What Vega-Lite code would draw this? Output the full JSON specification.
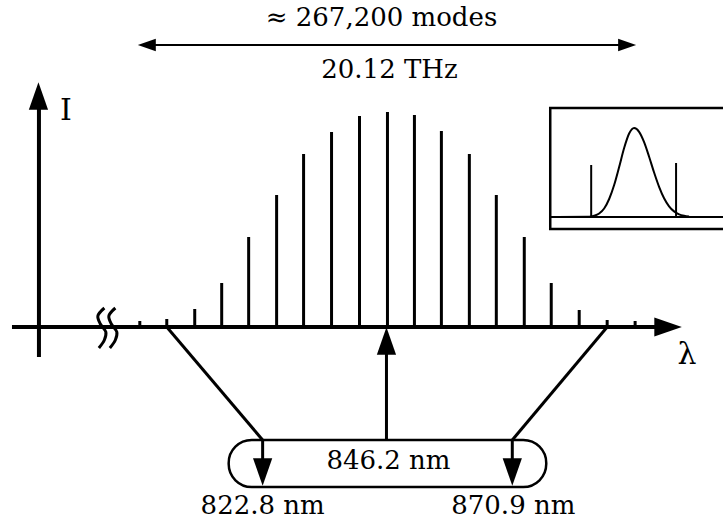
{
  "$schema": "https://vega.github.io/schema/vega-lite/v6.json",
  "width": 724,
  "height": 522,
  "autosize": {"type": "fit", "contains": "padding"},
  "padding": 0,
  "background": "white",
  "config": {"view": {"stroke": null}},
  "datasets": {
    "segs": [
      {"kind": "axis", "x": 12, "y": 327, "x2": 660, "y2": 327},
      {"kind": "axis", "x": 39, "y": 357, "x2": 39, "y2": 105},
      {"kind": "spike", "x": 140, "y": 327, "x2": 140, "y2": 321},
      {"kind": "spike", "x": 167, "y": 327, "x2": 167, "y2": 319},
      {"kind": "spike", "x": 195, "y": 327, "x2": 195, "y2": 309},
      {"kind": "spike", "x": 222, "y": 327, "x2": 222, "y2": 283},
      {"kind": "spike", "x": 249, "y": 327, "x2": 249, "y2": 237},
      {"kind": "spike", "x": 277, "y": 327, "x2": 277, "y2": 195},
      {"kind": "spike", "x": 304, "y": 327, "x2": 304, "y2": 154},
      {"kind": "spike", "x": 332, "y": 327, "x2": 332, "y2": 132},
      {"kind": "spike", "x": 360, "y": 327, "x2": 360, "y2": 116},
      {"kind": "spike", "x": 388, "y": 327, "x2": 388, "y2": 112},
      {"kind": "spike", "x": 415, "y": 327, "x2": 415, "y2": 115},
      {"kind": "spike", "x": 442, "y": 327, "x2": 442, "y2": 131},
      {"kind": "spike", "x": 470, "y": 327, "x2": 470, "y2": 154},
      {"kind": "spike", "x": 497, "y": 327, "x2": 497, "y2": 195},
      {"kind": "spike", "x": 525, "y": 327, "x2": 525, "y2": 237},
      {"kind": "spike", "x": 552, "y": 327, "x2": 552, "y2": 283},
      {"kind": "spike", "x": 580, "y": 327, "x2": 580, "y2": 310},
      {"kind": "spike", "x": 608, "y": 327, "x2": 608, "y2": 320},
      {"kind": "spike", "x": 636, "y": 327, "x2": 636, "y2": 321},
      {"kind": "conn", "x": 167, "y": 327, "x2": 263, "y2": 440},
      {"kind": "conn", "x": 608, "y": 327, "x2": 513, "y2": 440},
      {"kind": "conn", "x": 387, "y": 440, "x2": 387, "y2": 350},
      {"kind": "conn", "x": 263, "y": 440, "x2": 263, "y2": 465},
      {"kind": "conn", "x": 513, "y": 440, "x2": 513, "y2": 465},
      {"kind": "thin", "x": 150, "y": 45, "x2": 625, "y2": 45},
      {"kind": "thin", "x": 551, "y": 217, "x2": 724, "y2": 217},
      {"kind": "thin", "x": 592, "y": 217, "x2": 592, "y2": 165},
      {"kind": "thin", "x": 677, "y": 217, "x2": 677, "y2": 163}
    ],
    "heads": [
      {"grp": "big", "dir": "up", "x": 38.5, "y": 96},
      {"grp": "big", "dir": "right", "x": 669, "y": 327},
      {"grp": "big", "dir": "up", "x": 387, "y": 341},
      {"grp": "big", "dir": "down", "x": 263, "y": 472},
      {"grp": "big", "dir": "down", "x": 513, "y": 472},
      {"grp": "small", "dir": "left", "x": 147, "y": 45},
      {"grp": "small", "dir": "right", "x": 628, "y": 45}
    ],
    "boxes": [
      {"kind": "pill", "x": 229, "y": 440, "x2": 547, "y2": 487},
      {"kind": "inset", "x": 551, "y": 108, "x2": 740, "y2": 229}
    ],
    "gauss": [
      {"x": 552, "y": 217}, {"x": 590, "y": 216.8}, {"x": 595, "y": 215.8},
      {"x": 600, "y": 213.5}, {"x": 605, "y": 208.5}, {"x": 610, "y": 199},
      {"x": 615, "y": 185}, {"x": 620, "y": 167}, {"x": 625, "y": 148},
      {"x": 630, "y": 133.5}, {"x": 635, "y": 128}, {"x": 640, "y": 131.8},
      {"x": 645, "y": 142.1}, {"x": 650, "y": 156.7}, {"x": 655, "y": 172.5},
      {"x": 660, "y": 186.8}, {"x": 665, "y": 198.2}, {"x": 670, "y": 206.3},
      {"x": 675, "y": 211.4}, {"x": 680, "y": 214.3}, {"x": 685, "y": 215.8},
      {"x": 690, "y": 216.6}
    ],
    "squig": [
      {"s": 1, "i": 0, "x": 104.5, "y": 308}, {"s": 1, "i": 1, "x": 98, "y": 316},
      {"s": 1, "i": 2, "x": 100.5, "y": 324}, {"s": 1, "i": 3, "x": 106, "y": 332},
      {"s": 1, "i": 4, "x": 104.5, "y": 340}, {"s": 1, "i": 5, "x": 99, "y": 348},
      {"s": 2, "i": 0, "x": 115.5, "y": 308}, {"s": 2, "i": 1, "x": 109, "y": 316},
      {"s": 2, "i": 2, "x": 111.5, "y": 324}, {"s": 2, "i": 3, "x": 117, "y": 332},
      {"s": 2, "i": 4, "x": 115.5, "y": 340}, {"s": 2, "i": 5, "x": 110, "y": 348}
    ],
    "labels": [
      {"kind": "top", "t": "≈ 267,200 modes", "x": 382, "y": 18},
      {"kind": "top", "t": "20.12 THz", "x": 390, "y": 70},
      {"kind": "bot", "t": "846.2 nm", "x": 389, "y": 461},
      {"kind": "bot", "t": "822.8 nm", "x": 263, "y": 506},
      {"kind": "bot", "t": "870.9 nm", "x": 514, "y": 506},
      {"kind": "sym", "t": "I", "x": 66, "y": 111},
      {"kind": "sym", "t": "λ", "x": 688, "y": 355}
    ]
  },
  "encoding": {
    "x": {"field": "x", "type": "quantitative", "scale": {"domain": [0, 724], "nice": false, "zero": false}, "axis": null},
    "y": {"field": "y", "type": "quantitative", "scale": {"domain": [0, 522], "nice": false, "zero": false, "reverse": true}, "axis": null}
  },
  "layer": [
    {
      "data": {"name": "boxes"},
      "transform": [{"filter": "datum.kind === 'pill'"}],
      "mark": {"type": "rect", "fill": "white", "fillOpacity": 0, "stroke": "black", "strokeWidth": 2.5, "cornerRadius": 23},
      "encoding": {"x2": {"field": "x2"}, "y2": {"field": "y2"}}
    },
    {
      "data": {"name": "boxes"},
      "transform": [{"filter": "datum.kind === 'inset'"}],
      "mark": {"type": "rect", "fill": "white", "fillOpacity": 0, "stroke": "black", "strokeWidth": 2.5, "clip": true},
      "encoding": {"x2": {"field": "x2"}, "y2": {"field": "y2"}}
    },
    {
      "data": {"name": "segs"},
      "transform": [{"filter": "datum.kind === 'axis'"}],
      "mark": {"type": "rule", "color": "black", "strokeWidth": 4},
      "encoding": {"x2": {"field": "x2"}, "y2": {"field": "y2"}}
    },
    {
      "data": {"name": "segs"},
      "transform": [{"filter": "datum.kind === 'spike'"}],
      "mark": {"type": "rule", "color": "black", "strokeWidth": 3},
      "encoding": {"x2": {"field": "x2"}, "y2": {"field": "y2"}}
    },
    {
      "data": {"name": "segs"},
      "transform": [{"filter": "datum.kind === 'conn'"}],
      "mark": {"type": "rule", "color": "black", "strokeWidth": 3},
      "encoding": {"x2": {"field": "x2"}, "y2": {"field": "y2"}}
    },
    {
      "data": {"name": "segs"},
      "transform": [{"filter": "datum.kind === 'thin'"}],
      "mark": {"type": "rule", "color": "black", "strokeWidth": 2},
      "encoding": {"x2": {"field": "x2"}, "y2": {"field": "y2"}}
    },
    {
      "data": {"name": "gauss"},
      "mark": {"type": "line", "color": "black", "strokeWidth": 2, "interpolate": "monotone"},
      "encoding": {}
    },
    {
      "data": {"name": "squig"},
      "mark": {"type": "line", "color": "black", "strokeWidth": 3, "interpolate": "catmull-rom"},
      "encoding": {"detail": {"field": "s", "type": "nominal"}, "order": {"field": "i", "type": "quantitative"}}
    },
    {
      "data": {"name": "heads"},
      "transform": [{"filter": "datum.grp === 'big'"}],
      "mark": {"type": "point", "filled": true, "color": "black", "opacity": 1, "strokeWidth": 0, "size": 756},
      "encoding": {
        "shape": {"field": "dir", "type": "nominal", "legend": null,
          "scale": {"domain": ["up", "down", "left", "right"],
            "range": ["M0,-1L-0.7,1L0.7,1Z", "M0,1L-0.7,-1L0.7,-1Z", "M-1,0L1,-0.7L1,0.7Z", "M1,0L-1,-0.7L-1,0.7Z"]}}
      }
    },
    {
      "data": {"name": "heads"},
      "transform": [{"filter": "datum.grp === 'small'"}],
      "mark": {"type": "point", "filled": true, "color": "black", "opacity": 1, "strokeWidth": 0, "size": 324},
      "encoding": {
        "shape": {"field": "dir", "type": "nominal", "legend": null,
          "scale": {"domain": ["up", "down", "left", "right"],
            "range": ["M0,-1L-0.7,1L0.7,1Z", "M0,1L-0.7,-1L0.7,-1Z", "M-1,0L1,-0.7L1,0.7Z", "M1,0L-1,-0.7L-1,0.7Z"]}}
      }
    },
    {
      "data": {"name": "labels"},
      "transform": [{"filter": "datum.kind === 'top'"}],
      "mark": {"type": "text", "font": "DejaVu Serif", "fontSize": 26, "color": "black", "align": "center", "baseline": "middle"},
      "encoding": {"text": {"field": "t"}}
    },
    {
      "data": {"name": "labels"},
      "transform": [{"filter": "datum.kind === 'bot'"}],
      "mark": {"type": "text", "font": "DejaVu Serif", "fontSize": 26, "color": "black", "align": "center", "baseline": "middle"},
      "encoding": {"text": {"field": "t"}}
    },
    {
      "data": {"name": "labels"},
      "transform": [{"filter": "datum.kind === 'sym'"}],
      "mark": {"type": "text", "font": "DejaVu Serif", "fontSize": 30, "color": "black", "align": "center", "baseline": "middle"},
      "encoding": {"text": {"field": "t"}}
    }
  ]
}
